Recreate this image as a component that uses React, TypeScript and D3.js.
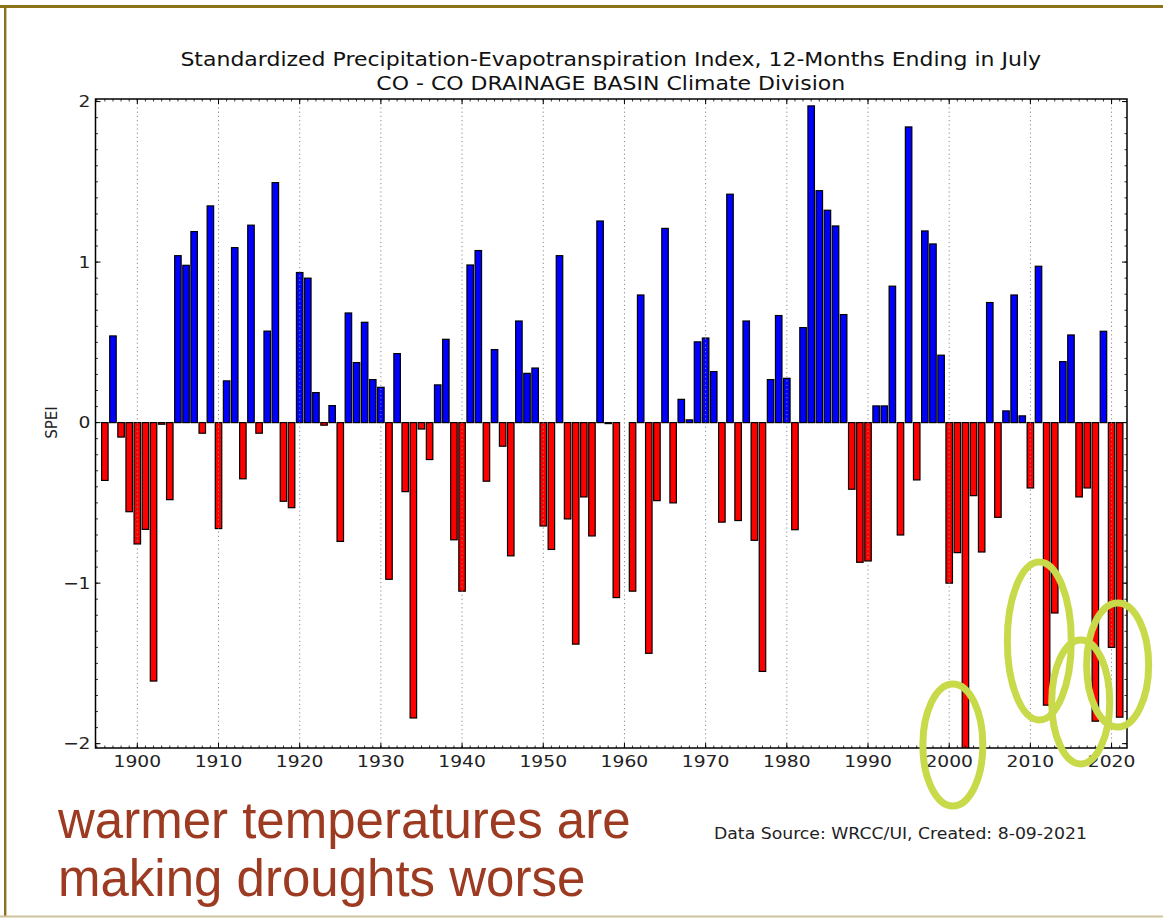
import React from "react";
import * as d3 from "d3";

const startYear = 1896;
const spei: number[] = [
  // 1896-1899
  -0.36, 0.54, -0.09, -0.555,
  // 1900s
  -0.756, -0.665, -1.61, -0.01, -0.48, 1.04, 0.98, 1.19, -0.066, 1.35,
  // 1910s
  -0.66, 0.26, 1.09, -0.35, 1.23, -0.066, 0.57, 1.495, -0.49, -0.53,
  // 1920s
  0.935, 0.9, 0.187, -0.016, 0.106, -0.74, 0.683, 0.374, 0.625, 0.268,
  // 1930s
  0.22, -0.976, 0.43, -0.43, -1.84, -0.04, -0.23, 0.235, 0.519, -0.73,
  // 1940s
  -1.05, 0.982, 1.072, -0.365, 0.455, -0.147, -0.83, 0.633, 0.307, 0.34,
  // 1950s
  -0.644, -0.79, 1.04, -0.6, -1.38, -0.463, -0.706, 1.256, -0.006, -1.09,
  // 1960s
  0.0, -1.05, 0.795, -1.437, -0.486, 1.21, -0.5, 0.145, 0.017, 0.503,
  // 1970s
  0.527, 0.318, -0.62, 1.423, -0.61, 0.633, -0.733, -1.55, 0.268, 0.667,
  // 1980s
  0.276, -0.667, 0.592, 1.973, 1.445, 1.323, 1.225, 0.673, -0.415, -0.87,
  // 1990s
  -0.862, 0.104, 0.104, 0.85, -0.7, 1.842, -0.357, 1.194, 1.113, 0.42,
  // 2000s
  -1.0, -0.81, -2.05, -0.455, -0.806, 0.748, -0.59, 0.073, 0.795, 0.042,
  // 2010s
  -0.407, 0.974, -1.76, -1.186, 0.38, 0.546, -0.463, -0.407, -1.86, 0.569,
  // 2020s
  -1.4, -1.835,
];
const years = spei.map((_, i) => startYear + i);

const xMajorTicks = [1900, 1910, 1920, 1930, 1940, 1950, 1960, 1970, 1980, 1990, 2000, 2010, 2020];
const yMajorTicks = [-2, -1, 0, 1, 2];

const titleLines = [
  "Standardized Precipitation-Evapotranspiration Index, 12-Months Ending in July",
  "CO - CO DRAINAGE BASIN Climate Division",
];
const yLabel = "SPEI";
const sourceNote = "Data Source: WRCC/UI, Created: 8-09-2021";
const captionLines = ["warmer temperatures are", "making droughts worse"];

// highlight circles: center year, center value, radii in px
const highlightYears = [2000.45, 2011.1, 2016.2, 2020.75];
const highlightValues = [-2.008, -1.36, -1.74, -1.51];
const highlightRx = [30, 32, 29, 31];
const highlightRy = [61, 79, 62, 62];

const W = 1163;
const H = 919;
const plot = { left: 95.5, right: 1127, top: 99, bottom: 748 };
const SX = 1.17; // the source picture is stretched horizontally

export default function App() {
  const x = d3.scaleLinear().domain([1894.85, 2021.9]).range([plot.left, plot.right]);
  const y = d3.scaleLinear().domain([-2.027, 2.016]).range([plot.bottom, plot.top]);
  const barW = x(1900.8) - x(1900);

  const minorX = d3.range(1895, 2022);
  const minorY = d3.range(-20, 21).map((d) => d / 10);

  const font = "'DejaVu Sans', Verdana, sans-serif";

  return (
    <div style={{ position: "absolute", left: 0, top: 0, width: W, height: H, background: "#fff" }}>
      <svg width={W} height={H} style={{ display: "block" }}>
        <rect x={0} y={0} width={W} height={H} fill="#ffffff" />
        <defs>
          <clipPath id="plotClip">
            <rect x={plot.left} y={plot.top} width={plot.right - plot.left} height={plot.bottom - plot.top} />
          </clipPath>
        </defs>

        {/* outer slide frame */}
        <line x1={0} x2={W} y1={6.5} y2={6.5} stroke="#8c7219" strokeWidth={3} />
        <line x1={5.2} x2={5.2} y1={5} y2={H - 2} stroke="#8c7219" strokeWidth={2.4} />
        <line x1={0} x2={W} y1={916.5} y2={916.5} stroke="#cfc39e" strokeWidth={2} />

        {/* title */}
        {titleLines.map((t, i) => (
          <text key={i} transform={`translate(${(plot.left + plot.right) / 2 - 0.5}, ${66 + i * 24}) scale(${SX},1)`}
            textAnchor="middle" fontFamily={font} fontSize={18.8} fill="#111">{t}</text>
        ))}

        {/* bars */}
        <g clipPath="url(#plotClip)">
          {years.map((yr, i) => {
            const v = spei[i];
            if (Math.abs(v) < 0.001) return null;
            const y0 = y(Math.max(0, v));
            const y1 = y(Math.min(0, v));
            return (
              <rect key={yr} x={x(yr) - barW / 2} y={y0} width={barW} height={Math.max(0.6, y1 - y0)}
                fill={v >= 0 ? "#0000ff" : "#ff0000"} stroke="#000" strokeWidth={1.2} />
            );
          })}
        </g>

        {/* grid */}
        {xMajorTicks.map((t) => (
          <line key={"g" + t} x1={x(t)} x2={x(t)} y1={plot.top} y2={plot.bottom}
            stroke="#8a8a8a" strokeWidth={1} strokeDasharray="1.2,3" />
        ))}

        {/* minor ticks */}
        {minorX.map((t) => (
          <g key={"mx" + t}>
            <line x1={x(t)} x2={x(t)} y1={plot.bottom} y2={plot.bottom - 2.5} stroke="#000" strokeWidth={0.8} />
            <line x1={x(t)} x2={x(t)} y1={plot.top} y2={plot.top + 2.5} stroke="#000" strokeWidth={0.8} />
          </g>
        ))}
        {minorY.map((t, i) => (
          <g key={"my" + i}>
            <line x1={plot.left} x2={plot.left + 2.5} y1={y(t)} y2={y(t)} stroke="#000" strokeWidth={0.8} />
            <line x1={plot.right} x2={plot.right - 2.5} y1={y(t)} y2={y(t)} stroke="#000" strokeWidth={0.8} />
          </g>
        ))}

        {/* major ticks and labels */}
        {xMajorTicks.map((t) => (
          <g key={"tx" + t}>
            <line x1={x(t)} x2={x(t)} y1={plot.bottom} y2={plot.bottom - 5} stroke="#000" strokeWidth={1} />
            <line x1={x(t)} x2={x(t)} y1={plot.top} y2={plot.top + 5} stroke="#000" strokeWidth={1} />
            <text transform={`translate(${x(t)}, 767) scale(${SX},1)`} textAnchor="middle" fontFamily={font}
              fontSize={16} fill="#222">{t}</text>
          </g>
        ))}
        {yMajorTicks.map((t) => (
          <g key={"ty" + t}>
            <line x1={plot.left} x2={plot.left + 5} y1={y(t)} y2={y(t)} stroke="#000" strokeWidth={1} />
            <line x1={plot.right} x2={plot.right - 5} y1={y(t)} y2={y(t)} stroke="#000" strokeWidth={1} />
            <text transform={`translate(${plot.left - 5}, ${y(t) + 5.8}) scale(${SX},1)`} textAnchor="end"
              fontFamily={font} fontSize={16} fill="#222">
              {t < 0 ? "\u2212" + Math.abs(t) : String(t)}
            </text>
          </g>
        ))}

        {/* axes frame */}
        <rect x={plot.left} y={plot.top} width={plot.right - plot.left} height={plot.bottom - plot.top}
          fill="none" stroke="#000" strokeWidth={1.5} />

        {/* y label */}
        <text transform={`translate(57, ${y(0)}) rotate(-90)`} textAnchor="middle" fontFamily={font}
          fontSize={15} fill="#222">{yLabel}</text>

        {/* source */}
        <text x={714} y={839} fontFamily={font} fontSize={15.2} fill="#222" textLength={373}
          lengthAdjust="spacingAndGlyphs">{sourceNote}</text>

        {/* caption */}
        {captionLines.map((t, i) => (
          <text key={i} x={58} y={838 + i * 58} fontFamily="'Liberation Sans', Arial, sans-serif"
            fontSize={51} fill="#9c3b22">{t}</text>
        ))}

        {/* highlight ellipses */}
        {highlightYears.map((yr, i) => (
          <ellipse key={"e" + i} cx={x(yr)} cy={y(highlightValues[i])} rx={highlightRx[i]} ry={highlightRy[i]}
            fill="none" stroke="#c8d94a" strokeWidth={7} />
        ))}
      </svg>
    </div>
  );
}
